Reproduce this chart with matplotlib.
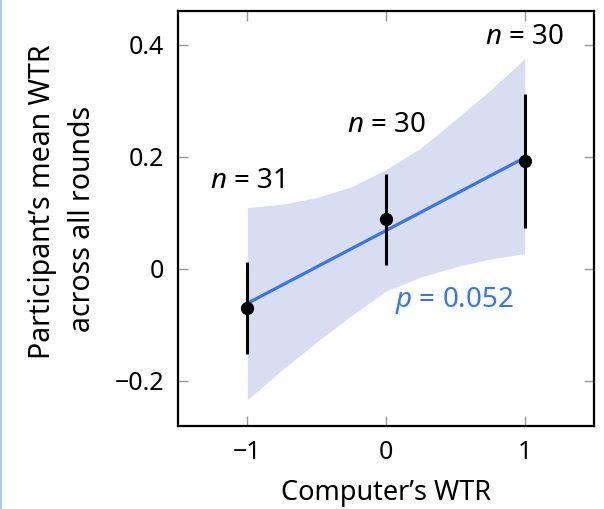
import numpy as np
import matplotlib
matplotlib.use('Agg')
import matplotlib.pyplot as plt
from matplotlib.lines import Line2D

plt.rcParams['font.family'] = ['Noto Sans', 'DejaVu Sans']
plt.rcParams['mathtext.fontset'] = 'custom'
plt.rcParams['mathtext.rm'] = 'Noto Sans'
plt.rcParams['mathtext.it'] = 'Noto Sans:italic'

# group means with error bars
comp_wtr = [-1, 0, 1]
mean_wtr = [-0.071, 0.089, 0.192]
err_low = [-0.153, 0.007, 0.073]
err_high = [0.011, 0.169, 0.312]
n_labels = ['$n$ = 31', '$n$ = 30', '$n$ = 30']
n_pos_y = [0.157, 0.256, 0.413]

# regression line and confidence band
fit_x = [-1, 1]
fit_y = [-0.062, 0.198]
band_x = [-1, -0.75, -0.5, -0.25, 0, 0.25, 0.5, 0.75, 1]
band_hi = [0.109, 0.115, 0.127, 0.146, 0.177, 0.215, 0.266, 0.318, 0.375]
band_lo = [-0.234, -0.181, -0.131, -0.084, -0.040, -0.015, 0.003, 0.017, 0.027]

xticks = [-1, 0, 1]
xticklabels = ['\u22121', '0', '1']
yticks = [-0.2, 0, 0.2, 0.4]
yticklabels = ['\u22120.2', '0', '0.2', '0.4']

blue = '#3576f0'
W, H = 604, 509

fig = plt.figure(figsize=(6.04, 5.09), dpi=100)
ax = fig.add_axes([0.2947, 0.163, 0.6887, 0.8154])

ax.fill_between(band_x, band_lo, band_hi, color='#d9ddf2', lw=0)
ax.plot(fit_x, fit_y, color=blue, lw=2.3, zorder=3)
yerr = [np.array(mean_wtr) - np.array(err_low), np.array(err_high) - np.array(mean_wtr)]
ax.errorbar(comp_wtr, mean_wtr, yerr=yerr, fmt='o', color='black', ms=8.5,
            elinewidth=2.2, capsize=0, zorder=4)

for xi, yi, lab in zip(comp_wtr, n_pos_y, n_labels):
    ax.text(xi, yi, lab, ha='center', va='center', fontsize=20)
ax.text(0.49, -0.057, '$p$ = 0.052', ha='center', va='center', fontsize=20, color=blue)

ax.set_xlim(-1.5, 1.5)
ax.set_ylim(-0.281, 0.46)
ax.set_xticks(xticks)
ax.set_xticklabels(xticklabels)
ax.set_yticks(yticks)
ax.set_yticklabels(yticklabels)
ax.tick_params(direction='in', length=7, width=1, color='#9a9a9a', labelsize=18,
               top=True, right=True, pad=10)
for s in ax.spines.values():
    s.set_linewidth(1.6)

ax.set_xlabel('Computer\u2019s WTR', fontsize=19.5, labelpad=10)

# y label as two lines, placed like in the original
fig.text(43 / W, 1 - 202 / H, 'Participant\u2019s mean WTR', rotation=90,
         ha='center', va='center', fontsize=20.5)
fig.text(82 / W, 1 - 219 / H, 'across all rounds', rotation=90,
         ha='center', va='center', fontsize=20.5)

fig.add_artist(Line2D([0.002, 0.002], [0, 1], color='#a8cce8', lw=1.5,
                      transform=fig.transFigure))

fig.savefig('out.png', dpi=100)
